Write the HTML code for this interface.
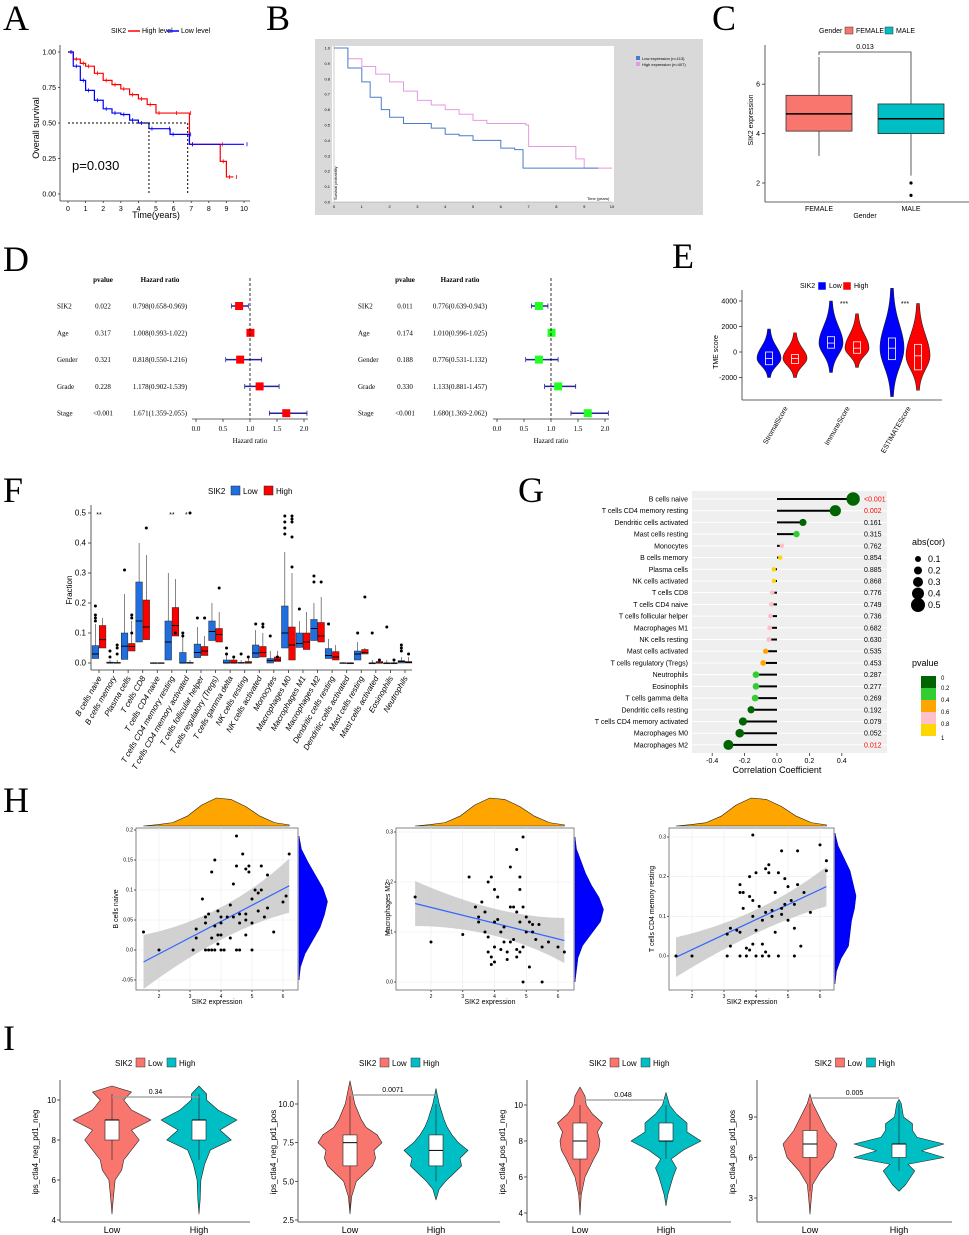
<!DOCTYPE html>
<html><head><meta charset="utf-8"><title>SIK2 figure</title>
<style>
html,body{margin:0;padding:0;background:#fff;}
svg{display:block;font-family:"Liberation Sans",sans-serif;}
.pl{font-family:"Liberation Serif",serif;font-size:36px;}
.t7{font-size:7px;}
.t8{font-size:8px;}
.t9{font-size:9px;}
</style></head>
<body>
<svg id="fig" width="969" height="1235" viewBox="0 0 969 1235" xmlns="http://www.w3.org/2000/svg">
<rect width="969" height="1235" fill="#fff"/>
<!-- panel letters -->
<text class="pl" x="3" y="30">A</text>
<text class="pl" x="266" y="30">B</text>
<text class="pl" x="712" y="30">C</text>
<text class="pl" x="3" y="271">D</text>
<text class="pl" x="672" y="268">E</text>
<text class="pl" x="3" y="502">F</text>
<text class="pl" x="518" y="502">G</text>
<text class="pl" x="3" y="812">H</text>
<text class="pl" x="3" y="1050">I</text>

<!-- A static -->
<g id="A">
<text class="t7" x="111" y="33">SIK2</text>
<line x1="128" y1="31" x2="140" y2="31" stroke="#f00" stroke-width="1.5"/>
<text class="t7" x="142" y="33">High level</text>
<line x1="167" y1="31" x2="179" y2="31" stroke="#00f" stroke-width="1.5"/>
<text class="t7" x="181" y="33">Low level</text>
<text class="t9" x="0" y="0" transform="translate(39,128) rotate(-90)" text-anchor="middle">Overall survival</text>
<text class="t9" x="156" y="218" text-anchor="middle">Time(years)</text>
<text x="72" y="170" font-size="13">p=0.030</text>
</g>
<!-- B static -->
<g>
<rect x="315" y="39" width="388" height="176" fill="#d9d9d9"/>
<rect x="332" y="46" width="282" height="156" fill="#fff"/>
<rect x="636" y="56" width="4" height="4" fill="#4a7dc9"/>
<text x="642" y="60" font-size="4">Low expression (n=113)</text>
<rect x="636" y="62" width="4" height="4" fill="#e59ae0"/>
<text x="642" y="66" font-size="4">High expression (n=407)</text>
<text x="587" y="200" font-size="4">Time (years)</text>
<text x="0" y="0" font-size="4" transform="translate(337,200) rotate(-90)">Survival probability</text>
</g>
<!-- C static -->
<g>
<text class="t7" x="819" y="33">Gender</text>
<rect x="845" y="27" width="8" height="7" fill="#f8766d" stroke="#333" stroke-width=".5"/>
<text class="t7" x="856" y="33">FEMALE</text>
<rect x="885" y="27" width="8" height="7" fill="#00bfc4" stroke="#333" stroke-width=".5"/>
<text class="t7" x="896" y="33">MALE</text>
<text class="t7" x="0" y="0" transform="translate(753,120) rotate(-90)" text-anchor="middle">SIK2 expression</text>
<text class="t7" x="865" y="218" text-anchor="middle">Gender</text>
<text class="t7" x="819" y="211" text-anchor="middle">FEMALE</text>
<text class="t7" x="911" y="211" text-anchor="middle">MALE</text>
<path d="M819 55 V52 H911 V55" fill="none" stroke="#333" stroke-width=".8"/>
<text class="t7" x="865" y="49" text-anchor="middle">0.013</text>
</g>
<!-- E static -->
<g>
<text class="t7" x="800" y="288">SIK2</text>
<rect x="818" y="282" width="8" height="8" fill="#00f" stroke="#fff" stroke-width=".5"/>
<text class="t7" x="829" y="288">Low</text>
<rect x="843" y="282" width="8" height="8" fill="#f00" stroke="#fff" stroke-width=".5"/>
<text class="t7" x="854" y="288">High</text>
<text class="t7" x="0" y="0" transform="translate(718,352) rotate(-90)" text-anchor="middle">TME score</text>
</g>
<!-- F static -->
<g>
<text class="t8" x="208" y="494">SIK2</text>
<rect x="231" y="486" width="9" height="9" fill="#1f6fe0" stroke="#222" stroke-width=".5"/>
<text class="t8" x="243" y="494">Low</text>
<rect x="264" y="486" width="9" height="9" fill="#f00" stroke="#222" stroke-width=".5"/>
<text class="t8" x="276" y="494">High</text>
<text class="t8" x="0" y="0" transform="translate(72,590) rotate(-90)" text-anchor="middle">Fraction</text>
</g>
<!-- G static -->
<g>
<rect x="692" y="491" width="195" height="262" fill="#efefef"/>
<text class="t9" x="777" y="773" text-anchor="middle">Correlation Coefficient</text>
<text class="t9" x="912" y="545">abs(cor)</text>
<text class="t9" x="912" y="666">pvalue</text>
</g>
<!-- H labels static -->
<g>
<text class="t7" x="0" y="0" transform="translate(118,909) rotate(-90)" text-anchor="middle">B cells naive</text>
<text class="t7" x="0" y="0" transform="translate(390,909) rotate(-90)" text-anchor="middle">Macrophages M2</text>
<text class="t7" x="0" y="0" transform="translate(654,909) rotate(-90)" text-anchor="middle">T cells CD4 memory resting</text>
<text class="t7" x="217" y="1004" text-anchor="middle">SIK2 expression</text>
<text class="t7" x="490" y="1004" text-anchor="middle">SIK2 expression</text>
<text class="t7" x="752" y="1004" text-anchor="middle">SIK2 expression</text>
<text class="t7" x="143" y="842" font-style="italic">R = 0.47, p = 2.4e-05</text>
<text class="t7" x="414" y="842" font-style="italic">R = −0.29, p = 0.012</text>
<text class="t7" x="676" y="842" font-style="italic">R = 0.36, p = 0.0017</text>
</g>
<g id="dyn"></g>
</svg>
<script>
const NS="http://www.w3.org/2000/svg";
const root=document.getElementById('dyn');
function mk(tag,a,p){const e=document.createElementNS(NS,tag);for(const k in a)e.setAttribute(k,a[k]);(p||root).appendChild(e);return e;}
function txt(x,y,s,name,opt,p){const t=mk('text',Object.assign({x:x,y:y,'font-size':7},opt||{}),p);t.textContent=s;


return t;}
function ln(x1,y1,x2,y2,name,opt,p){const l=mk('line',Object.assign({x1,y1,x2,y2,stroke:'#333','stroke-width':.8},opt||{}),p);


return l;}
function pth(d,name,opt,p){const e=mk('path',Object.assign({d:d,fill:'none'},opt||{}),p);


return e;}

/* ===== Panel A data ===== */
const kmHighA=[[0,1],[0.3,0.95],[0.7,0.92],[1,0.9],[1.5,0.85],[2,0.8],[2.5,0.77],[3,0.74],[3.5,0.7],[4,0.67],[4.5,0.63],[5,0.57],[6,0.57],[6.8,0.57],[6.9,0.35],[8.6,0.35],[8.65,0.23],[9,0.12],[9.4,0.12]];
const kmLowA=[[0,1],[0.3,0.9],[0.7,0.8],[1,0.73],[1.5,0.66],[2,0.6],[2.5,0.57],[3,0.56],[3.5,0.52],[4,0.5],[4.6,0.46],[5.6,0.46],[5.8,0.42],[6.8,0.42],[6.9,0.35],[10,0.35]];
const ticksA_y=[0,0.25,0.5,0.75,1];
const ticksA_x=[0,1,2,3,4,5,6,7,8,9,10];
const xA=t=>68+t*17.6, yA=s=>194-s*142;
ln(60,45,60,201,'y-axis-a');ln(60,201,250,201,'x-axis-a');
ticksA_y.forEach(v=>{ln(58,yA(v),60,yA(v),'y-tick-a');txt(56,yA(v)+2.5,v.toFixed(2),'y-tick-label-a',{'text-anchor':'end'});});
ticksA_x.forEach(v=>{ln(xA(v),201,xA(v),203,'x-tick-a');txt(xA(v),211,String(v),'x-tick-label-a',{'text-anchor':'middle'});});
function stepPath(d,fx,fy){let s='M'+fx(d[0][0])+' '+fy(d[0][1]);for(let i=1;i<d.length;i++){s+=' H'+fx(d[i][0])+' V'+fy(d[i][1]);}return s;}
pth(stepPath(kmHighA,xA,yA),'km-high-line-a',{stroke:'#f00','stroke-width':1.2});
pth(stepPath(kmLowA,xA,yA),'km-low-line-a',{stroke:'#00f','stroke-width':1.2});
kmHighA.forEach(p=>{const c=ln(xA(p[0])+3,yA(p[1])-2,xA(p[0])+3,yA(p[1])+2,'censor-high-a',{stroke:'#f00'});});
kmLowA.forEach(p=>{const c=ln(xA(p[0])+3,yA(p[1])-2,xA(p[0])+3,yA(p[1])+2,'censor-low-a',{stroke:'#00f'});});
pth(`M${xA(0)} ${yA(.5)} H${xA(6.8)}`,'median-guide-a',{stroke:'#000','stroke-dasharray':'2,2'});
pth(`M${xA(4.6)} ${yA(.5)} V${yA(0)}`,'median-low-guide-a',{stroke:'#000','stroke-dasharray':'2,2'});
pth(`M${xA(6.8)} ${yA(.5)} V${yA(0)}`,'median-high-guide-a',{stroke:'#000','stroke-dasharray':'2,2'});

/* ===== Panel B data ===== */
const kmHighB=[[0,1],[0.5,0.93],[1,0.88],[1.5,0.83],[2,0.78],[2.5,0.72],[3,0.66],[3.5,0.63],[4,0.6],[4.5,0.57],[5,0.53],[5.5,0.51],[6.9,0.5],[7,0.36],[8.5,0.36],[8.7,0.28],[9,0.22],[10,0.22]];
const kmLowB=[[0,1],[0.5,0.87],[1,0.78],[1.3,0.68],[1.7,0.6],[2,0.55],[2.5,0.51],[3.5,0.48],[4,0.44],[4.5,0.43],[5,0.4],[6,0.35],[6.5,0.34],[6.8,0.22],[9.5,0.22]];
const ticksB_y=[0,0.1,0.2,0.3,0.4,0.5,0.6,0.7,0.8,0.9,1.0];
const ticksB_x=[0,1,2,3,4,5,6,7,8,9,10];
const xB=t=>334+t*27.8, yB=s=>202-s*154;
ticksB_y.forEach(v=>txt(330,yB(v)+1.5,v.toFixed(1),'y-tick-label-b',{'font-size':4,'text-anchor':'end'}));
ticksB_x.forEach(v=>txt(xB(v),208,String(v),'x-tick-label-b',{'font-size':4,'text-anchor':'middle'}));
ln(334,46,334,202,'y-axis-b',{stroke:'#999','stroke-width':.5});ln(334,202,612,202,'x-axis-b',{stroke:'#999','stroke-width':.5});
pth(stepPath(kmHighB,xB,yB),'km-high-line-b',{stroke:'#e59ae0','stroke-width':1});
pth(stepPath(kmLowB,xB,yB),'km-low-line-b',{stroke:'#4a7dc9','stroke-width':1});

/* ===== Panel C data ===== */
const groupsC=['FEMALE','MALE'];
const boxC=[[4.1,4.8,5.55,3.1,7.1],[4.0,4.6,5.2,2.3,7.2]];
const outC=[[],[2.0,1.5]];
const ticksC=[2,4,6];
const yC=v=>183-(v-2)*24.7, xC=[819,911];
ln(765,45,765,202,'y-axis-c');ln(765,202,969,202,'x-axis-c');
ticksC.forEach(v=>{ln(762,yC(v),765,yC(v),'y-tick-c');txt(760,yC(v)+2.5,String(v),'y-tick-label-c',{'text-anchor':'end'});});
boxC.forEach((b,i)=>{const col=i?'#00bfc4':'#f8766d';
ln(xC[i],yC(b[4]),xC[i],yC(b[3]),'whisker-c-'+groupsC[i].toLowerCase());
const r=mk('rect',{x:xC[i]-33,y:yC(b[2]),width:66,height:yC(b[0])-yC(b[2]),fill:col,stroke:'#333','stroke-width':.8});


ln(xC[i]-33,yC(b[1]),xC[i]+33,yC(b[1]),'median-c-'+groupsC[i].toLowerCase(),{'stroke-width':1.5,stroke:'#000'});
outC[i].forEach(o=>{const c=mk('circle',{cx:xC[i],cy:yC(o),r:1.6,fill:'#000'});

});
});

/* ===== Panel D data ===== */
const varsD=['SIK2','Age','Gender','Grade','Stage'];
const pvalD1=['0.022','0.317','0.321','0.228','<0.001'];
const hrD1=[[0.798,0.658,0.969],[1.008,0.993,1.022],[0.818,0.550,1.216],[1.178,0.902,1.539],[1.671,1.359,2.055]];
const pvalD2=['0.011','0.174','0.188','0.330','<0.001'];
const hrD2=[[0.776,0.639,0.943],[1.010,0.996,1.025],[0.776,0.531,1.132],[1.133,0.881,1.457],[1.680,1.369,2.062]];
const ticksD=[0,0.5,1,1.5,2];
function forest(x0,xName,xP,xHR,pv,hr,col,tag){
 const xs=h=>x0+h*54;
 const rowY=i=>306+i*26.8;
 txt(xP,282,'pvalue','header-pvalue-'+tag,{'text-anchor':'middle','font-weight':'bold','font-family':'Liberation Serif, serif'});
 txt(xHR,282,'Hazard ratio','header-hr-'+tag,{'text-anchor':'middle','font-weight':'bold','font-family':'Liberation Serif, serif'});
 varsD.forEach((v,i)=>{const y=rowY(i);
  txt(xName,y+2.5,v,'row-label-'+tag,{'font-family':'Liberation Serif, serif'});
  txt(xP,y+2.5,pv[i],'row-pvalue-'+tag,{'text-anchor':'middle','font-family':'Liberation Serif, serif'});
  txt(xHR,y+2.5,hr[i][0].toFixed(3)+'('+hr[i][1].toFixed(3)+'-'+hr[i][2].toFixed(3)+')','row-hr-'+tag,{'text-anchor':'middle','font-family':'Liberation Serif, serif'});
  ln(xs(hr[i][1]),y,xs(hr[i][2]),y,'ci-line-'+tag,{stroke:'#22229a','stroke-width':1.5});
  ln(xs(hr[i][1]),y-2.5,xs(hr[i][1]),y+2.5,'ci-cap-'+tag,{stroke:'#22229a'});
  ln(xs(hr[i][2]),y-2.5,xs(hr[i][2]),y+2.5,'ci-cap-'+tag,{stroke:'#22229a'});
  const r=mk('rect',{x:xs(hr[i][0])-4,y:y-4,width:8,height:8,fill:col});
  
  
 });
 ln(xs(1),278,xs(1),419,'reference-line-'+tag,{stroke:'#000','stroke-dasharray':'3,2'});
 ln(xs(0)-4,419,xs(2)+4,419,'x-axis-'+tag,{stroke:'#888','stroke-width':1.2});
 ticksD.forEach(t=>{ln(xs(t),419,xs(t),422,'x-tick-'+tag);txt(xs(t),431,t.toFixed(1),'x-tick-label-'+tag,{'text-anchor':'middle','font-family':'Liberation Serif, serif'});});
 txt(xs(1),443,'Hazard ratio','x-axis-title-'+tag,{'text-anchor':'middle','font-family':'Liberation Serif, serif'});
}
forest(196,57,103,160,pvalD1,hrD1,'#f00','unicox');
forest(497,358,405,460,pvalD2,hrD2,'#2f2','multicox');

/* ===== Panel E data ===== */
const catsE=['StromalScore','ImmuneScore','ESTIMATEScore'];
const boxE_low=[[-1000,-500,0,-2000,1800],[300,700,1200,-1600,4000],[-600,300,1100,-3500,5000]];
const boxE_high=[[-900,-500,-200,-2000,1500],[-100,300,800,-1200,3000],[-1400,-300,600,-3000,3800]];
const signifE=['','***','***'];
const ticksE=[-2000,0,2000,4000];
const yE=v=>352-v*0.01275, xE=[782,844,905];
ln(742,290,742,400,'y-axis-e');ln(742,400,942,400,'x-axis-e');
ticksE.forEach(v=>{ln(739,yE(v),742,yE(v),'y-tick-e');txt(737,yE(v)+2.5,String(v),'y-tick-label-e',{'text-anchor':'end'});});
function violinE(cx,b,col,w,name){
 const lo=b[3],hi=b[4],m=b[1];let L=[],R=[];
 for(let k=0;k<=30;k++){const v=lo+(hi-lo)*k/30;const sd=v<m?(m-lo)/2.6:(hi-m)/2.6;const d=Math.exp(-0.5*((v-m)/sd)**2);const hw=1+w*d;L.push([cx-hw,yE(v)]);R.push([cx+hw,yE(v)]);}
 const d='M'+L.map(p=>p.join(' ')).join(' L')+' L'+R.reverse().map(p=>p.join(' ')).join(' L')+'Z';
 pth(d,name,{fill:col,stroke:'#222','stroke-width':.6});
 const r=mk('rect',{x:cx-3.5,y:yE(b[2]),width:7,height:yE(b[0])-yE(b[2]),fill:'none',stroke:'#fff','stroke-width':.8});
 
 
 ln(cx-3.5,yE(b[1]),cx+3.5,yE(b[1]),name+'-median',{stroke:'#fff'});
}
catsE.forEach((c,i)=>{violinE(xE[i]-13,boxE_low[i],'#00f',11,'violin-e-low-'+c);violinE(xE[i]+13,boxE_high[i],'#f00',11,'violin-e-high-'+c);
 txt(xE[i],306,signifE[i],'signif-e',{'text-anchor':'middle'});
 txt(0,0,c,'x-tick-label-e',{'text-anchor':'end',transform:`translate(${xE[i]+6},408) rotate(-60)`});});

/* ===== Panel F data ===== */
const catsF=['B cells naive','B cells memory','Plasma cells','T cells CD8','T cells CD4 naive','T cells CD4 memory resting','T cells CD4 memory activated','T cells follicular helper','T cells regulatory (Tregs)','T cells gamma delta','NK cells resting','NK cells activated','Monocytes','Macrophages M0','Macrophages M1','Macrophages M2','Dendritic cells resting','Dendritic cells activated','Mast cells resting','Mast cells activated','Eosinophils','Neutrophils'];
const lowF=[[.015,.03,.058,.13],[0,0,.003,.01],[.012,.056,.1,.23],[.07,.14,.27,.4],[0,0,.001,.002],[.01,.07,.14,.3],[0,0,.035,.09],[.018,.035,.063,.12],[.075,.105,.14,.2],[0,0,.01,.03],[0,0,.002,.01],[.018,.033,.06,.11],[0,.008,.015,.04],[.05,.1,.19,.37],[.052,.065,.1,.14],[.075,.115,.145,.2],[.015,.025,.048,.08],[0,0,.001,.003],[.01,.03,.04,.07],[0,0,0,.01],[0,0,0,.01],[0,.005,.008,.02]];
const highF=[[.05,.078,.125,.15],[0,0,.002,.01],[.04,.055,.065,.14],[.078,.12,.21,.36],[0,0,.001,.002],[.09,.125,.185,.28],[0,0,.002,.01],[.025,.04,.055,.09],[.07,.095,.115,.17],[0,0,.01,.02],[0,0,.005,.02],[.02,.035,.055,.1],[.005,.01,.02,.04],[.01,.06,.12,.3],[.045,.07,.1,.17],[.07,.09,.135,.22],[.01,.02,.038,.06],[0,0,0,.002],[.03,.035,.045,.05],[0,0,.005,.01],[0,0,0,.01],[0,.002,.005,.02]];
const outLowF=[[.19,.16,.15,.14],[.04,.02],[.31],[],[],[],[.1,.09],[.15],[],[.05,.03],[.03],[.13],[.09],[.49,.47,.45,.43],[.18],[.29,.27],[.13],[],[.1],[.1],[.12],[.06,.05,.04]];
const outHighF=[[],[.06,.05,.03],[.16,.15,.1],[.45],[],[.1],[.5],[.15],[.25],[.02],[.02],[.13,.12],[.02],[.49,.48,.47,.42,.32],[],[.27],[],[],[.22],[.01],[.01],[.03]];
const signifF=['**','','','','','**','*','','','','','','','','','','','','','','',''];
const ticksF=[0,0.1,0.2,0.3,0.4,0.5];
const yF=v=>663-v*300, xF=i=>99+i*14.57;
ln(91,505,91,670,'y-axis-f');ln(91,670,412,670,'x-axis-f');
ticksF.forEach(v=>{ln(88,yF(v),91,yF(v),'y-tick-f');txt(86,yF(v)+2.5,v.toFixed(1),'y-tick-label-f',{'text-anchor':'end','font-size':8});});
function boxF(cx,b,col,outs,name){
 ln(cx,yF(b[3]),cx,yF(b[0]),name+'-whisker',{stroke:'#333','stroke-width':.6});
 const r=mk('rect',{x:cx-3.3,y:yF(b[2]),width:6.6,height:Math.max(.8,yF(b[0])-yF(b[2])),fill:col,stroke:'#222','stroke-width':.5});
 
 
 ln(cx-3.3,yF(b[1]),cx+3.3,yF(b[1]),name+'-median',{stroke:'#000','stroke-width':1});
 outs.forEach(o=>{const c=mk('circle',{cx:cx,cy:yF(o),r:1.5,fill:'#000'});
 
 });
}
catsF.forEach((c,i)=>{const x=xF(i);
 boxF(x-3.6,lowF[i],'#1f6fe0',outLowF[i],'box-f-low');
 boxF(x+3.6,highF[i],'#f00',outHighF[i],'box-f-high');
 ln(x,670,x,673,'x-tick-f');
 txt(0,0,c,'x-tick-label-f',{'text-anchor':'end','font-size':8,'font-style':'italic',transform:`translate(${x+3},678) rotate(-60)`});
 if(signifF[i])txt(x,517,signifF[i],'signif-f',{'text-anchor':'middle'});
});

/* ===== Panel G data ===== */
const cellsG=['B cells naive','T cells CD4 memory resting','Dendritic cells activated','Mast cells resting','Monocytes','B cells memory','Plasma cells','NK cells activated','T cells CD8','T cells CD4 naive','T cells follicular helper','Macrophages M1','NK cells resting','Mast cells activated','T cells regulatory (Tregs)','Neutrophils','Eosinophils','T cells gamma delta','Dendritic cells resting','T cells CD4 memory activated','Macrophages M0','Macrophages M2'];
const corG=[0.47,0.36,0.16,0.12,0.03,0.02,-0.02,-0.02,-0.03,-0.035,-0.04,-0.045,-0.05,-0.07,-0.085,-0.13,-0.13,-0.135,-0.16,-0.21,-0.23,-0.3];
const pG=[0.0005,0.002,0.161,0.315,0.762,0.854,0.885,0.868,0.776,0.749,0.736,0.682,0.630,0.535,0.453,0.287,0.277,0.269,0.192,0.079,0.052,0.012];
const pLabelG=['<0.001','0.002','0.161','0.315','0.762','0.854','0.885','0.868','0.776','0.749','0.736','0.682','0.630','0.535','0.453','0.287','0.277','0.269','0.192','0.079','0.052','0.012'];
const ticksG=[-0.4,-0.2,0,0.2,0.4];
const sizeLegendG=[0.1,0.2,0.3,0.4,0.5];
const colorStopsG=['#006400','#32cd32','#ffa500','#ffc0cb','#ffd700'];
const xG=c=>777+c*162, yG=i=>499+i*11.71;
const pcol=p=>p<0.2?'#006400':p<0.4?'#32cd32':p<0.6?'#ffa500':p<0.8?'#ffc0cb':'#ffd700';
const rG=a=>2+a*10;
cellsG.forEach((c,i)=>{const y=yG(i);
 ln(692,y,887,y,'gridline-g',{stroke:'#fff','stroke-width':1});
 txt(688,y+2.5,c,'row-label-g',{'text-anchor':'end'});
 ln(xG(0),y,xG(corG[i]),y,'stick-g',{stroke:'#000','stroke-width':2});
 const d=mk('circle',{cx:xG(corG[i]),cy:y,r:rG(Math.abs(corG[i])),fill:pcol(pG[i])});
 
 
 txt(864,y+2.5,pLabelG[i],'pvalue-label-g',{fill:pG[i]<0.05?'#f00':'#000'});
});
ticksG.forEach(t=>{ln(xG(t),753,xG(t),756,'x-tick-g');txt(xG(t),763,t===0?'0.0':String(t),'x-tick-label-g',{'text-anchor':'middle'});});
sizeLegendG.forEach((s,i)=>{const y=559+i*11.5;const c=mk('circle',{cx:918,cy:y,r:rG(s),fill:'#000'});
 
 
 txt(928,y+3,String(s),'legend-g-size-label',{'font-size':9});});
colorStopsG.forEach((col,i)=>{const r=mk('rect',{x:921,y:676+i*12,width:15,height:12,fill:col});
 
 
 txt(941,678+i*12+(i?0:2),['0','0.2','0.4','0.6','0.8'][i],'legend-g-color-label',{'font-size':6});});
txt(941,740,'1','legend-g-color-label',{'font-size':6});

/* ===== Panel H data ===== */
const ptsH1=[[1.5,.03],[2,0],[3.1,0],[3.2,.035],[3.2,.02],[3.4,.085],[3.5,.055],[3.5,.045],[3.5,0],[3.6,.06],[3.6,0],[3.7,.13],[3.7,.02],[3.7,0],[3.8,.15],[3.8,.04],[3.8,0],[3.9,.065],[3.9,.025],[3.9,.01],[4,.025],[4,0],[4,.055],[4,.045],[4.1,0],[4.2,.055],[4.3,.075],[4.3,.02],[4.4,.11],[4.4,.055],[4.5,.19],[4.5,.14],[4.5,0],[4.6,.06],[4.6,.045],[4.6,0],[4.7,.16],[4.8,.135],[4.8,.06],[4.8,.05],[4.8,.025],[4.9,.14],[4.9,.13],[5,.085],[5,.045],[5,0],[5.1,.1],[5.2,.095],[5.2,.065],[5.3,.14],[5.3,.1],[5.4,.055],[5.5,.125],[5.5,.07],[5.7,.03],[6,.08],[6.1,.09],[6.2,.16]];
const ptsH2=[[1.5,.17],[2,.08],[3,.095],[3.2,.21],[3.4,.15],[3.5,.13],[3.5,.12],[3.6,.16],[3.7,.14],[3.7,.1],[3.8,.2],[3.8,.09],[3.8,.06],[3.9,.21],[3.9,.05],[3.9,.035],[4,.185],[4,.12],[4,.07],[4,.04],[4.1,.17],[4.1,.125],[4.2,.1],[4.2,.065],[4.3,.11],[4.3,.08],[4.4,.06],[4.4,.045],[4.5,.23],[4.5,.15],[4.5,.08],[4.6,.15],[4.6,.085],[4.7,.265],[4.7,.14],[4.7,.065],[4.7,.05],[4.8,.21],[4.8,.185],[4.8,.12],[4.8,.06],[4.9,.29],[4.9,.15],[4.9,.07],[4.9,0],[5,.13],[5,.1],[5.1,.12],[5.1,.03],[5.2,.115],[5.2,.1],[5.3,.085],[5.4,.115],[5.5,.07],[5.5,0],[5.7,.08],[6,.07],[6.2,.06]];
const ptsH3=[[1.5,0],[2,0],[3.1,0],[3.1,.055],[3.2,.07],[3.2,.025],[3.4,.065],[3.5,.06],[3.5,0],[3.5,.16],[3.5,.18],[3.6,.12],[3.6,.16],[3.7,.02],[3.7,0],[3.8,.15],[3.8,.2],[3.8,.015],[3.9,.305],[3.9,.14],[3.9,.1],[3.9,.03],[4,.065],[4,0],[4,.21],[4.1,.125],[4.2,.09],[4.2,.03],[4.2,0],[4.3,.22],[4.3,.11],[4.3,.01],[4.4,.23],[4.4,.21],[4.4,0],[4.5,.1],[4.5,.115],[4.6,.16],[4.6,.06],[4.7,.21],[4.7,0],[4.8,.265],[4.8,.12],[4.8,.105],[4.9,.195],[4.9,.13],[5,.175],[5,.09],[5.1,.14],[5.2,0],[5.2,.07],[5.2,.13],[5.3,.265],[5.3,.18],[5.4,.025],[5.5,.16],[5.7,.11],[6,.28],[6.2,.24],[6.2,.215]];
const fitH=[[-0.02,0.107],[0.157,0.083],[-0.003,0.175]];
const ciH=[[0.045,0.03],[0.045,0.03],[0.05,0.03]];
const ticksHy=[[-0.05,0,0.05,0.10,0.15,0.20],[0,0.1,0.2,0.3],[0,0.1,0.2,0.3]];
const ticksHx=[2,3,4,5,6];
const densTopH=[0,0.05,0.12,0.35,0.75,1,0.95,0.7,0.35,0.12,0.04];
const densRightH=[[0,.05,.2,.45,.7,.85,.95,.8,.55,.3,.08,0],[0,.05,.1,.25,.55,.85,.95,.8,.55,.35,.2,.05,0],[0,.05,.2,.45,.5,.55,.65,.7,.6,.5,.3,.1,0]];
const panelsH=[
 {pts:ptsH1,x0:136,x1:298,yt:828,yb:990,vy0:-0.05,py0:980,vy1:0.20,py1:830,px2:159,px6:283,yMinData:-0.05,yMaxData:0.19},
 {pts:ptsH2,x0:396,x1:574,yt:828,yb:990,vy0:0,py0:982,vy1:0.3,py1:832,px2:431,px6:558,yMinData:0,yMaxData:0.29},
 {pts:ptsH3,x0:669,x1:834,yt:828,yb:990,vy0:0,py0:956,vy1:0.3,py1:837,px2:692,px6:820,yMinData:-0.07,yMaxData:0.31}];
panelsH.forEach((P,k)=>{
 const fx=v=>P.px2+(v-2)*(P.px6-P.px2)/4, fy=v=>P.py0+(v-P.vy0)*(P.py1-P.py0)/(P.vy1-P.vy0);
 const bg=mk('rect',{x:P.x0,y:P.yt,width:P.x1-P.x0,height:P.yb-P.yt,fill:'#fff',stroke:'#666','stroke-width':.8});
 
 
 ticksHx.forEach(t=>{ln(fx(t),P.yt,fx(t),P.yb,'gridline-x-h',{stroke:'#ececec','stroke-width':.6});ln(fx(t),P.yb,fx(t),P.yb+2,'x-tick-h');txt(fx(t),P.yb+8,String(t),'x-tick-label-h',{'text-anchor':'middle','font-size':5});});
 ticksHy[k].forEach(t=>{ln(P.x0,fy(t),P.x1,fy(t),'gridline-y-h',{stroke:'#ececec','stroke-width':.6});ln(P.x0-2,fy(t),P.x0,fy(t),'y-tick-h');txt(P.x0-3,fy(t)+1.5,t.toFixed(2).replace(/^0\.(\d)0$/,'0.$1').replace(/^-0\.(\d\d)$/,'-0.$1'),'y-tick-label-h',{'text-anchor':'end','font-size':5});});
 const a=fitH[k][0],b=fitH[k][1],c=ciH[k];
 const xa=1.5,xb=6.2;
 pth(`M${fx(xa)} ${fy(a+c[0])} Q${fx(4.1)} ${fy((a+b)/2+c[1]*0.3)} ${fx(xb)} ${fy(b+c[0])} L${fx(xb)} ${fy(b-c[0])} Q${fx(4.1)} ${fy((a+b)/2-c[1]*0.3)} ${fx(xa)} ${fy(a-c[0])}Z`,'confidence-band-h'+(k+1),{fill:'#bdbdbd','fill-opacity':.7});
 ln(fx(xa),fy(a),fx(xb),fy(b),'regression-line-h'+(k+1),{stroke:'#3366ff','stroke-width':1.2});
 P.pts.forEach(p=>{const c=mk('circle',{cx:fx(p[0]),cy:fy(p[1]),r:1.5,fill:'#000'});
 
 });
 // top density
 const n=densTopH.length;let d=`M${fx(1.5)} ${P.yt-2}`;
 densTopH.forEach((v,i)=>{d+=` L${fx(1.5+i*(4.7/(n-1)))} ${P.yt-2-v*28}`;});
 d+=` L${fx(6.2)} ${P.yt-2}Z`;
 pth(d,'marginal-density-top-h'+(k+1),{fill:'#ffa500',stroke:'#222','stroke-width':.6,'stroke-linejoin':'round'});
 const dr=densRightH[k];const m=dr.length;let e=`M${P.x1+1} ${fy(P.yMinData)}`;
 dr.forEach((v,i)=>{e+=` L${P.x1+1+v*30} ${fy(P.yMinData+i*(P.yMaxData-P.yMinData)/(m-1))}`;});
 e+=` L${P.x1+1} ${fy(P.yMaxData)}Z`;
 pth(e,'marginal-density-right-h'+(k+1),{fill:'#0000ff',stroke:'#0000aa','stroke-width':.5});
});

/* ===== Panel I data ===== */
const titlesI=['ips_ctla4_neg_pd1_neg','ips_ctla4_neg_pd1_pos','ips_ctla4_pos_pd1_neg','ips_ctla4_pos_pd1_pos'];
const pLabelI=['0.34','0.0071','0.048','0.005'];
const lowShapeI=[
 [[4.3,0],[5,.03],[6,.08],[6.5,.25],[7,.3],[7.5,.5],[8,.7],[8.5,.5],[9,1],[9.5,.5],[10,.3],[10.4,.5],[10.7,0]],
 [[2.9,0],[4,.05],[5,.2],[5.5,.45],[6,.7],[6.5,.8],[7,.75],[7.5,1],[8,.85],[8.5,.5],[9,.35],[10,.15],[11,.05],[11.5,0]],
 [[3.9,0],[5,.05],[6,.2],[7,.55],[7.5,.75],[8,.8],[8.5,.7],[9,.9],[9.5,.5],[10,.25],[10.5,.2],[11,0]],
 [[1.8,0],[3,.05],[4,.1],[5,.4],[6,.85],[7,1],[8,.6],[9,.35],[10,.1],[10.7,0]]];
const highShapeI=[
 [[4.3,0],[5,.03],[6,.05],[6.8,.15],[7.5,.3],[8,.85],[8.5,.55],[9,1],[9.5,.5],[10,.2],[10.3,.2],[10.7,0]],
 [[3.8,0],[4.5,.1],[5,.3],[5.5,.55],[6,.8],[6.5,.75],[7,1],[7.5,.7],[8,.5],[8.5,.35],[9,.25],[10,.1],[11,0]],
 [[4.4,0],[5,.05],[6,.2],[6.5,.3],[7,.15],[7.5,.5],[8,1],[8.5,.6],[9,.6],[9.5,.3],[10,.1],[10.7,0]],
 [[3.5,0],[4,.15],[5,.35],[5.5,.2],[6,1],[6.5,.5],[7,1],[7.5,.4],[8,.3],[8.5,.3],[9,.1],[10,.05],[10.3,0]]];
const lowBoxI=[[8,9,9,7,10.3],[6,7.5,8,3,10.5],[7,8,9,5,10],[6,7,8,3.5,10]];
const highBoxI=[[8,9,9,7,10.3],[6,7,8,5,10],[8,8,9,7,10],[6,7,7,5,10]];
const ticksI=[[4,6,8,10],[2.5,5,7.5,10],[4,6,8,10],[3,6,9]];
const panelsI=[
 {x0:60,x1:250,xl:112,xh:199,v0:4,p0:1220,v1:10,p1:1100,wl:39,wh:38,yTop:1097},
 {x0:298,x1:500,xl:350,xh:436,v0:2.5,p0:1220,v1:10,p1:1104,wl:32,wh:32,yTop:1095},
 {x0:527,x1:731,xl:580,xh:666,v0:4,p0:1213,v1:10,p1:1105,wl:25,wh:35,yTop:1100},
 {x0:757,x1:952,xl:810,xh:899,v0:3,p0:1198,v1:9,p1:1117,wl:27,wh:45,yTop:1098}];
panelsI.forEach((P,k)=>{
 const fy=v=>P.p0+(v-P.v0)*(P.p1-P.p0)/(P.v1-P.v0);
 ln(P.x0,1080,P.x0,1222,'y-axis-i'+(k+1));ln(P.x0,1222,P.x1,1222,'x-axis-i'+(k+1));
 ticksI[k].forEach(t=>{ln(P.x0-3,fy(t),P.x0,fy(t),'y-tick-i');txt(P.x0-4,fy(t)+3,k===1?t.toFixed(1):String(t),'y-tick-label-i',{'text-anchor':'end','font-size':8});});
 txt(0,0,titlesI[k],'y-axis-title-i'+(k+1),{'text-anchor':'middle','font-size':8,transform:`translate(${P.x0-22},1152) rotate(-90)`});
 txt(P.xl,1233,'Low','x-tick-label-i',{'text-anchor':'middle','font-size':9});
 txt(P.xh,1233,'High','x-tick-label-i',{'text-anchor':'middle','font-size':9});
 const lx=(P.x0+P.x1)/2-40;
 txt(lx,1066,'SIK2','legend-i-title',{'font-size':8});
 const r1=mk('rect',{x:lx+21,y:1058,width:9,height:9,fill:'#f8766d',stroke:'#333','stroke-width':.5});
 
 
 txt(lx+33,1066,'Low','legend-i-low',{'font-size':8});
 const r2=mk('rect',{x:lx+52,y:1058,width:9,height:9,fill:'#00bfc4',stroke:'#333','stroke-width':.5});
 
 
 txt(lx+64,1066,'High','legend-i-high',{'font-size':8});
 [[lowShapeI[k],P.xl,P.wl,'#f8766d',lowBoxI[k],'low'],[highShapeI[k],P.xh,P.wh,'#00bfc4',highBoxI[k],'high']].forEach(([S,cx,w,col,B,nm])=>{
  let L=S.map(s=>`${cx-s[1]*w} ${fy(s[0])}`),R=S.slice().reverse().map(s=>`${cx+s[1]*w} ${fy(s[0])}`);
  pth('M'+L.join(' L')+' L'+R.join(' L')+'Z','violin-i'+(k+1)+'-'+nm,{fill:col,stroke:'#222','stroke-width':.6,'stroke-linejoin':'round'});
  ln(cx,fy(B[4]),cx,fy(B[3]),'whisker-i'+(k+1)+'-'+nm,{stroke:'#222','stroke-width':.6});
  const bx=mk('rect',{x:cx-7,y:fy(B[2]),width:14,height:Math.max(1,fy(B[0])-fy(B[2])),fill:'#fff',stroke:'#222','stroke-width':.6});
  
  
  ln(cx-7,fy(B[1]),cx+7,fy(B[1]),'median-i'+(k+1)+'-'+nm,{stroke:'#000','stroke-width':1});
 });
 ln(P.xl,P.yTop,P.xh,P.yTop,'signif-bracket-i'+(k+1),{stroke:'#999','stroke-width':1.2});
 txt((P.xl+P.xh)/2,P.yTop-3,pLabelI[k],'signif-label-i'+(k+1),{'text-anchor':'middle','font-size':7});
});
</script>
</body></html>
